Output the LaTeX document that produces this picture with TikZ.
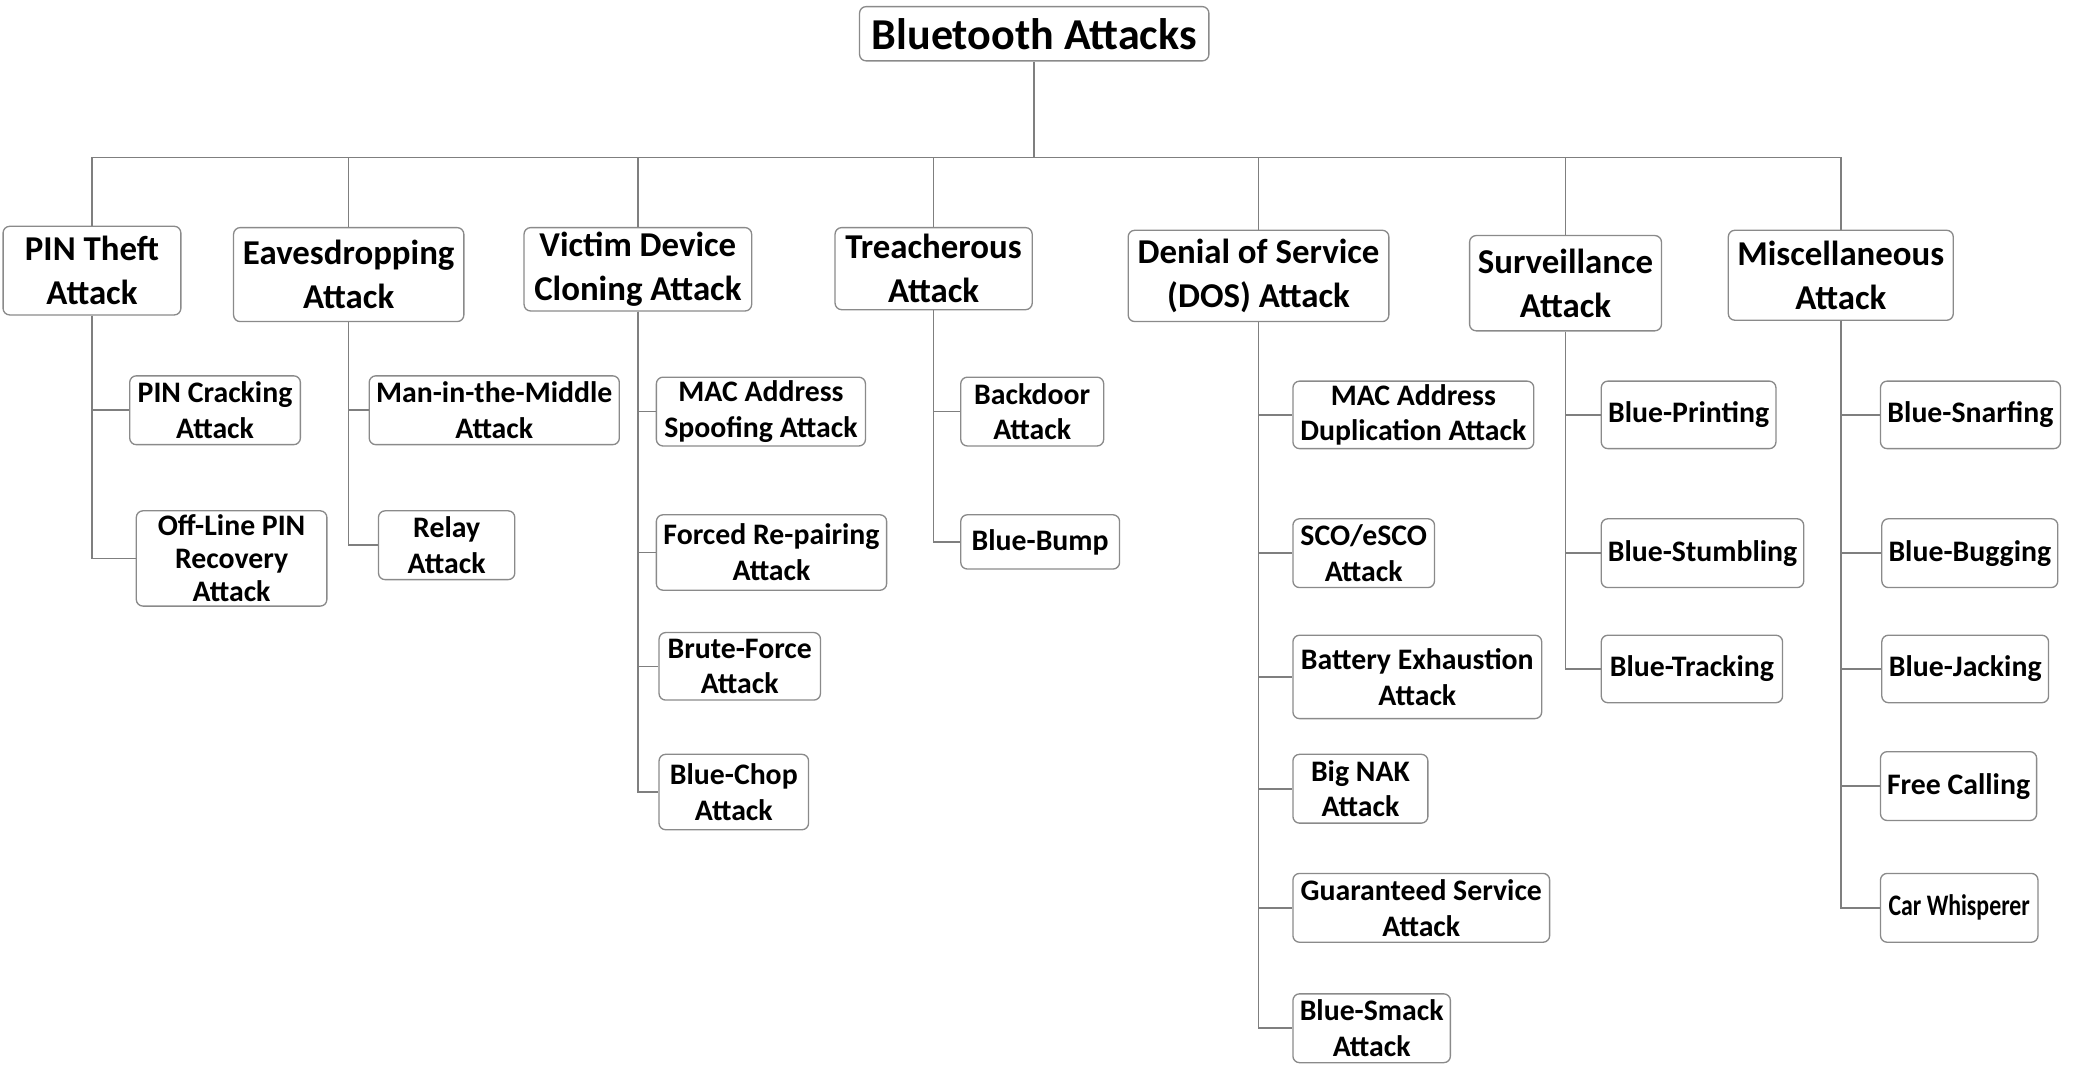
\documentclass[tikz,border=0pt]{standalone}
\usepackage{fontspec}
\setmainfont{Carlito}
\definecolor{boxgray}{HTML}{8A8A8A}
\definecolor{linegray}{HTML}{7F7F7F}
\begin{document}
\begin{tikzpicture}[x=0.6pt,y=-0.6pt,
  base/.style={draw=boxgray, line width=0.6pt, rounded corners=3pt, inner sep=0pt, align=center, text=black},
  rootbox/.style={base, font=\fontsize{20}{24}\selectfont\bfseries},
  catbox/.style={base, font=\fontsize{15.8}{19.8}\selectfont\bfseries},
  leaf/.style={base, font=\fontsize{13.5}{16.2}\selectfont\bfseries},
  leafthree/.style={base, font=\fontsize{13.5}{15}\selectfont\bfseries},
  link/.style={draw=linegray, line width=0.7pt}]
\useasboundingbox (0,0) rectangle (1568,806);

% root
\node[rootbox, minimum width=158.4pt, minimum height=24.6pt] (root) at (781.5,25.5) {Bluetooth Attacks};

% categories
\node[catbox, minimum width=80.6pt,  minimum height=40.2pt] (pin) at (69.5,204.5) {PIN Theft\\Attack};
\node[catbox, minimum width=104.4pt, minimum height=42.6pt] (eav) at (263.5,207.5) {Eavesdropping\\Attack};
\node[catbox, minimum width=103.2pt, minimum height=37.8pt] (vic) at (482,203.5) {Victim Device\\Cloning Attack};
\node[catbox, minimum width=89.4pt,  minimum height=37.2pt] (tre) at (705.5,203) {Treacherous\\Attack};
\node[catbox, minimum width=118.2pt, minimum height=41.4pt] (dos) at (951,208.5) {Denial of Service\\(DOS) Attack};
\node[catbox, minimum width=87pt,    minimum height=43.2pt] (sur) at (1183,214) {Surveillance\\Attack};
\node[catbox, minimum width=102pt,   minimum height=40.8pt] (mis) at (1391,208) {Miscellaneous\\Attack};

% PIN theft children
\node[leaf, minimum width=77.4pt, minimum height=31.2pt] (pc) at (162.5,310) {PIN Cracking\\Attack};
\node[leafthree, minimum width=86.4pt, minimum height=43.2pt] (ol) at (175,422) {Off-Line PIN\\Recovery\\Attack};

% Eavesdropping children
\node[leaf, minimum width=113.4pt, minimum height=31.2pt] (mitm) at (373.5,310) {Man-in-the-Middle\\Attack};
\node[leaf, minimum width=61.8pt, minimum height=31.2pt] (rel) at (337.5,412) {Relay\\Attack};

% Victim children
\node[leaf, minimum width=94.8pt, minimum height=31.2pt] (mspf) at (575,311) {MAC Address\\Spoofing Attack};
\node[leaf, minimum width=104.4pt, minimum height=34.2pt] (frc) at (583,417.5) {Forced Re-pairing\\Attack};
\node[leaf, minimum width=73.2pt, minimum height=30.6pt] (bru) at (559,503.5) {Brute-Force\\Attack};
\node[leaf, minimum width=67.8pt, minimum height=34.2pt] (bch) at (554.5,598.5) {Blue-Chop\\Attack};

% Treacherous children
\node[leaf, minimum width=64.8pt, minimum height=31.2pt] (bkd) at (780,311) {Backdoor\\Attack};
\node[leaf, minimum width=72pt, minimum height=24.6pt] (bbu) at (786,409.5) {Blue-Bump};

% DOS children
\node[leaf, minimum width=109.2pt, minimum height=30.6pt] (mdup) at (1068,313.5) {MAC Address\\Duplication Attack};
\node[leaf, minimum width=64.2pt, minimum height=31.2pt] (sco) at (1030.5,418) {SCO/eSCO\\Attack};
\node[leaf, minimum width=112.8pt, minimum height=37.8pt] (bat) at (1071,511.5) {Battery Exhaustion\\Attack};
\node[leaf, minimum width=61.2pt, minimum height=31.2pt] (nak) at (1028,596) {Big NAK\\Attack};
\node[leaf, minimum width=116.4pt, minimum height=31.2pt] (gsa) at (1074,686) {Guaranteed Service\\Attack};
\node[leaf, minimum width=71.4pt, minimum height=31.2pt] (bsm) at (1036.5,777) {Blue-Smack\\Attack};

% Surveillance children
\node[leaf, minimum width=79.2pt, minimum height=30.6pt] (bpr) at (1276,313.5) {Blue-Printing};
\node[leaf, minimum width=91.8pt, minimum height=31.2pt] (bst) at (1286.5,418) {Blue-Stumbling};
\node[leaf, minimum width=82.2pt, minimum height=30.6pt] (btr) at (1278.5,505.5) {Blue-Tracking};

% Miscellaneous children
\node[leaf, minimum width=81.6pt, minimum height=30.6pt] (bsn) at (1489,313.5) {Blue-Snarfing};
\node[leaf, minimum width=79.8pt, minimum height=31.2pt] (bbg) at (1488.5,418) {Blue-Bugging};
\node[leaf, minimum width=75.6pt, minimum height=30.6pt] (bja) at (1485,505.5) {Blue-Jacking};
\node[leaf, minimum width=70.8pt, minimum height=31.2pt] (fre) at (1480,594) {Free Calling};
\node[leaf, minimum width=71.4pt, minimum height=31.2pt] (car) at (1480.5,686) {\scalebox{0.8}[1]{Car Whisperer}};

% bus
\coordinate (bus) at (0,119);
\draw[link] (root.south) -- (root.south |- bus);
\draw[link] (pin.north |- bus) -- (mis.north |- bus);
\foreach \c in {pin,eav,vic,tre,dos,sur,mis}{
  \draw[link] (\c.north) -- (\c.north |- bus);
}

% children connectors
\foreach \p/\c in {pin/pc,pin/ol,eav/mitm,eav/rel,vic/mspf,vic/frc,vic/bru,vic/bch,tre/bkd,tre/bbu,dos/mdup,dos/sco,dos/bat,dos/nak,dos/gsa,dos/bsm,sur/bpr,sur/bst,sur/btr,mis/bsn,mis/bbg,mis/bja,mis/fre,mis/car}{
  \draw[link] (\p.south) |- (\c.west);
}
\end{tikzpicture}
\end{document}
